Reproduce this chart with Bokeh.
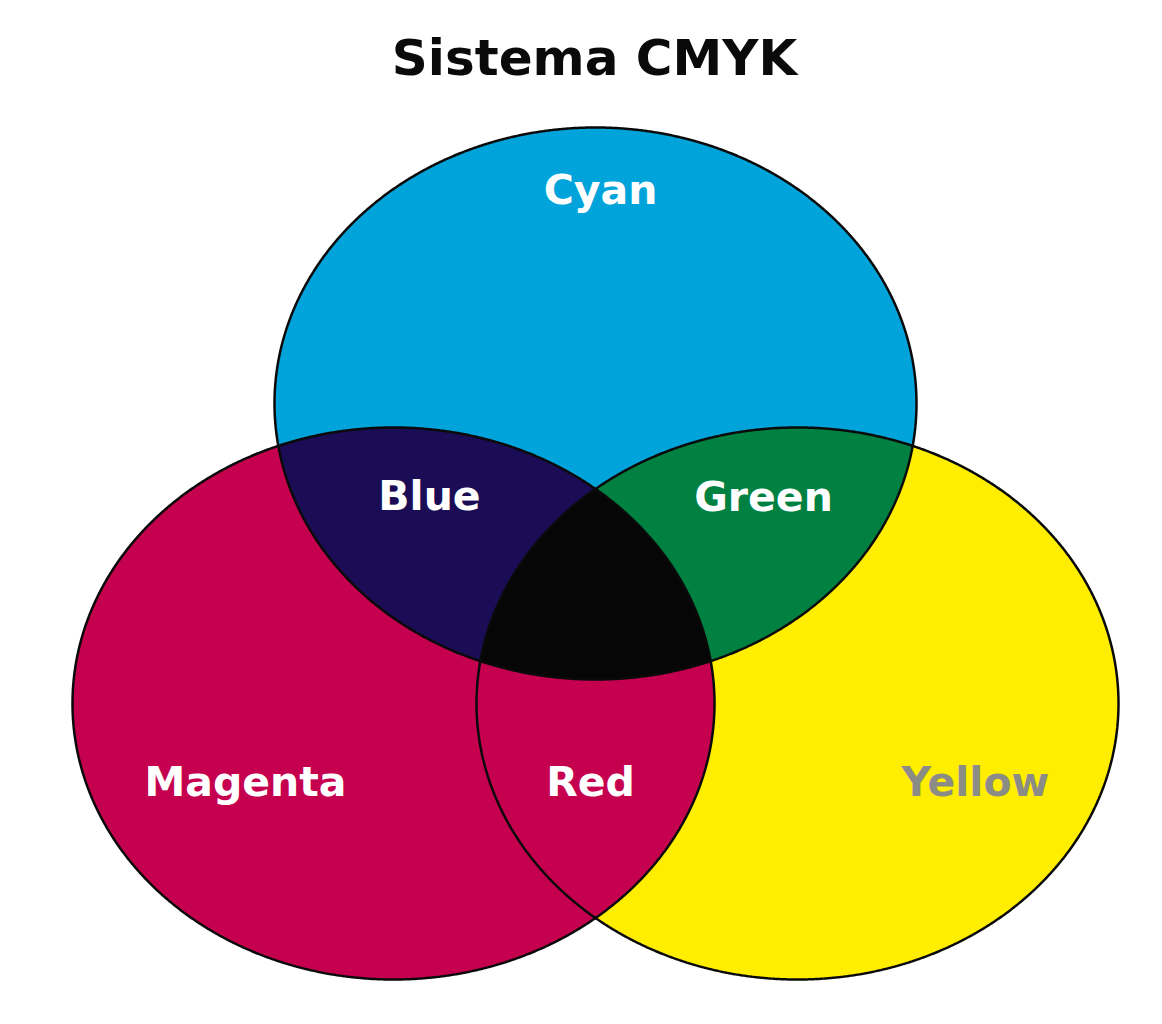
import numpy as np
from bokeh.plotting import figure
from bokeh.models import Range1d
from bokeh.core.properties import value
from bokeh.embed import file_html
from bokeh.resources import INLINE

# ---- data ----
title_text = "Sistema CMYK"
circle_names = ["Cyan", "Magenta", "Yellow"]
circle_cx = [595, 393, 797]
circle_cy = [403, 703, 703]
circle_rx = [321, 321, 321]
circle_ry = [276, 276, 276]
circle_colors = ["#00A3DA", "#C5004F", "#FFEE00"]

region_names = ["Blue", "Green", "Red", "Black"]
region_members = [[0, 1], [0, 2], [1, 2], [0, 1, 2]]
region_colors = ["#1A0D55", "#008142", "#C5004F", "#060606"]

label_texts = ["Cyan", "Blue", "Green", "Magenta", "Red", "Yellow"]
label_x = [600, 429, 763, 245, 590, 975]
label_y = [189, 495, 496, 781, 781, 781]
label_colors = ["#FFFFFF", "#FFFFFF", "#FFFFFF", "#FFFFFF", "#FFFFFF", "#8C8C87"]

# ---- geometry helpers ----
def ellipse_pts(i, n=1500):
    t = np.linspace(0, 2 * np.pi, n, endpoint=False)
    return circle_cx[i] + circle_rx[i] * np.cos(t), circle_cy[i] + circle_ry[i] * np.sin(t)

def inside(i, x, y):
    return ((x - circle_cx[i]) / circle_rx[i]) ** 2 + ((y - circle_cy[i]) / circle_ry[i]) ** 2 <= 1.0 + 1e-9

def intersection(members):
    xs, ys = [], []
    for i in members:
        x, y = ellipse_pts(i)
        m = np.ones_like(x, dtype=bool)
        for j in members:
            if j != i:
                m &= inside(j, x, y)
        xs.append(x[m]); ys.append(y[m])
    x = np.concatenate(xs); y = np.concatenate(ys)
    cx, cy = x.mean(), y.mean()
    order = np.argsort(np.arctan2(y - cy, x - cx))
    return list(x[order]), list(y[order])

# ---- figure ----
p = figure(width=1146, height=1008, output_backend="svg", toolbar_location=None,
           x_range=Range1d(0, 1146), y_range=Range1d(1008, 0), min_border=0)
p.axis.visible = False
p.grid.visible = False
p.outline_line_color = None
p.background_fill_color = "white"
p.border_fill_color = "white"

ex, ey = [], []
for i in range(3):
    x, y = ellipse_pts(i)
    ex.append(list(x)); ey.append(list(y))
p.patches(ex, ey, fill_color=circle_colors, line_color=None)

rx, ry = [], []
for mem in region_members:
    x, y = intersection(mem)
    rx.append(x); ry.append(y)
p.patches(rx, ry, fill_color=region_colors, line_color=None)

# outlines
for i in range(3):
    x, y = ellipse_pts(i)
    p.line(list(x) + [x[0]], list(y) + [y[0]], line_color="#0A0A0A", line_width=2.5)

p.text(x=[594], y=[57], text=[title_text], text_font=value("DejaVu Sans"),
       text_font_style="bold", text_font_size="50px", text_color="#0A0A0A",
       text_align="center", text_baseline="alphabetic")

p.text(x=label_x, y=label_y, text=label_texts, text_font=value("DejaVu Sans"),
       text_font_style="bold", text_font_size="41px", text_color=label_colors,
       text_align="center", text_baseline="alphabetic")

open("out.html", "w").write(file_html(p, INLINE))
